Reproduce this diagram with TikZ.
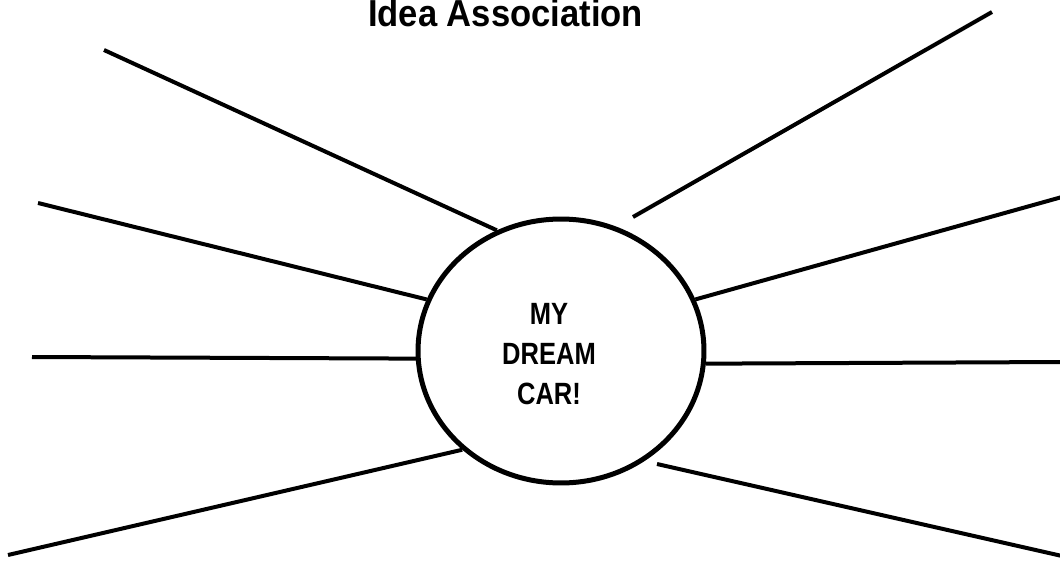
\documentclass[tikz,border=0pt]{standalone}
\usepackage{fontspec}
\setmainfont{Liberation Sans}
\usetikzlibrary{shapes,positioning,calc}

\tikzset{
  ray/.style={line width=0.08cm},
  bubble/.style={ellipse,draw,line width=0.1cm,minimum width=5.72cm,minimum height=5.28cm,inner sep=0pt}
}

\begin{document}
\begin{tikzpicture}[x=0.02cm,y=-0.02cm]
                \useasboundingbox (0,0) rectangle (1060,564);
                \node[anchor=base,xscale=0.92,font=\bfseries\fontsize{21.4}{24}\selectfont] (title) at (505.5,27) {Idea Association};
                \node[bubble] (car) at (561,351) {};
                \node[align=center,xscale=0.83,font=\bfseries\fontsize{17.5}{22.7}\selectfont] (label) at (549,354) {MY\\DREAM\\CAR!};
                \coordinate (ul) at (104,50);
                \coordinate (ur) at (992,12);
                \coordinate (ur-in) at (633,217);
                \coordinate (ml) at (38,203);
                \coordinate (mr) at (1062,197);
                \coordinate (hl) at (32,357);
                \coordinate (hr) at (1062,362);
                \coordinate (ll) at (8,555);
                \coordinate (lr) at (1062,556);
                \coordinate (lr-in) at (657,464);
                \draw[ray] (ul) -- (car.118);
                \draw[ray] (ur) -- (ur-in);
                \draw[ray] (ml) -- (car.159);
                \draw[ray] (mr) -- (car.21);
                \draw[ray] (hl) -- (car.183);
                \draw[ray] (hr) -- (car.-5);
                \draw[ray] (ll) -- (car.225);
                \draw[ray] (lr) -- (lr-in);
            \end{tikzpicture}
\end{document}
